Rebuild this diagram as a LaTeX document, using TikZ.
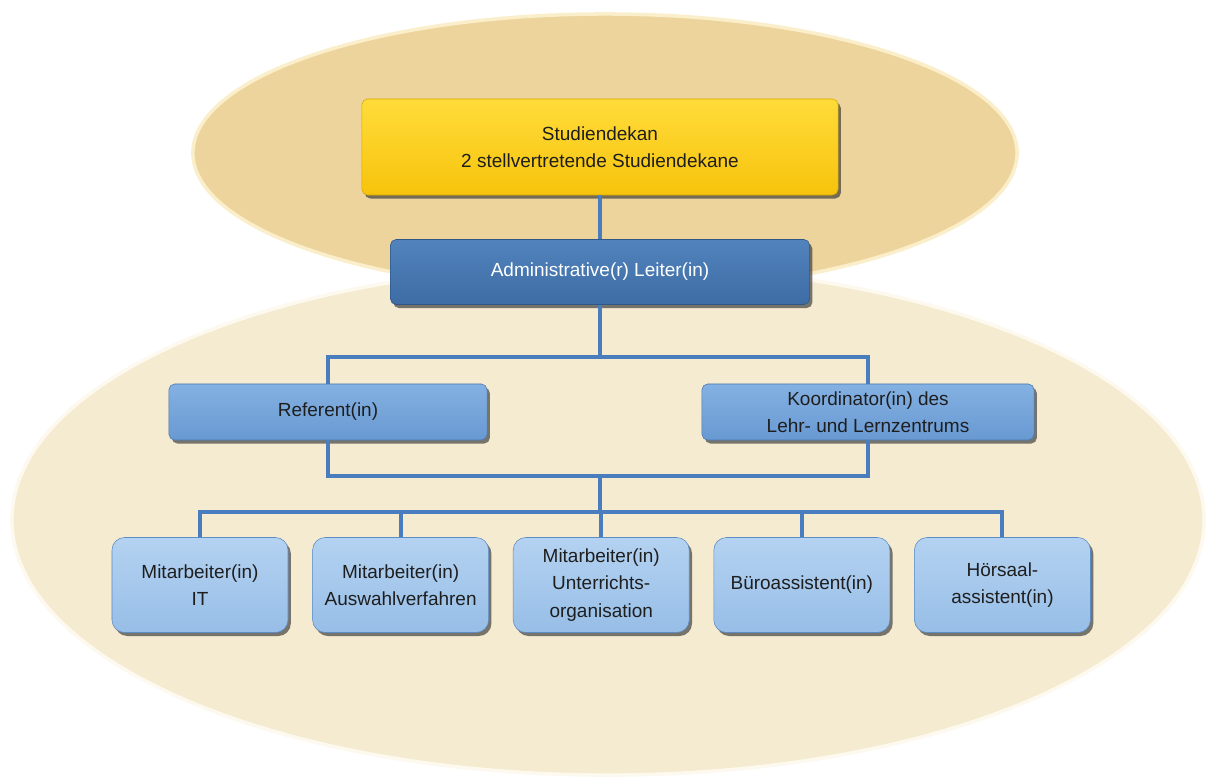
\documentclass[tikz,border=0pt]{standalone}
\usepackage{fontspec}
\setmainfont{Liberation Sans}
\usetikzlibrary{positioning, shadows}

\definecolor{oval_upper}{HTML}{EDD49C}
\definecolor{oval_upper_rim}{HTML}{FBEFCB}
\definecolor{oval_lower}{HTML}{F5EBD1}
\definecolor{oval_lower_rim}{HTML}{FDF9EE}
\definecolor{dean_top}{HTML}{FFDC3A}
\definecolor{dean_bottom}{HTML}{F7C30C}
\definecolor{dean_edge}{HTML}{D8A600}
\definecolor{lead_top}{HTML}{5283BC}
\definecolor{lead_bottom}{HTML}{3E6CA5}
\definecolor{lead_edge}{HTML}{2D5888}
\definecolor{mid_top}{HTML}{84B1E2}
\definecolor{mid_bottom}{HTML}{6899D2}
\definecolor{mid_edge}{HTML}{4A78B0}
\definecolor{staff_top}{HTML}{B4D2F1}
\definecolor{staff_bottom}{HTML}{97BEE7}
\definecolor{staff_edge}{HTML}{5D8BC4}
\definecolor{link_blue}{HTML}{4A7DBE}
\definecolor{text_dark}{HTML}{1E1E1E}

\begin{document}
\begin{tikzpicture}[
    x=0.025cm, y=-0.025cm,
    unit_box/.style={
        rectangle,
        rounded corners=4pt,
        thin,
        align=center,
        inner sep=2pt,
        text=text_dark,
        font=\fontsize{13.5}{19.5}\selectfont,
        drop shadow={shadow xshift=2pt, shadow yshift=-2.5pt, opacity=0.65, fill=black!80}
    },
    dean_box/.style={
        unit_box,
        draw=dean_edge,
        top color=dean_top,
        bottom color=dean_bottom,
        minimum width=11.9cm,
        minimum height=2.4cm
    },
    lead_box/.style={
        unit_box,
        draw=lead_edge,
        top color=lead_top,
        bottom color=lead_bottom,
        text=white,
        minimum width=10.475cm,
        minimum height=1.625cm
    },
    mid_box/.style={
        unit_box,
        draw=mid_edge,
        top color=mid_top,
        bottom color=mid_bottom,
        minimum height=1.4cm
    },
    staff_box/.style={
        unit_box,
        rounded corners=9pt,
        draw=staff_edge,
        top color=staff_top,
        bottom color=staff_bottom,
        minimum width=4.4cm,
        minimum height=2.375cm
    },
    link/.style={
        draw=link_blue,
        line width=2.8pt
    }
]

    % Background and ovals
    \fill[white] (0,0) rectangle (1210,776);
    \useasboundingbox (0,0) rectangle (1210,776);
    \filldraw[fill=oval_lower, draw=oval_lower_rim, line width=2.5pt]
        (608,520) ellipse [x radius=14.9cm, y radius=6.375cm];
    \filldraw[fill=oval_upper, draw=oval_upper_rim, line width=2.5pt]
        (605,153) ellipse [x radius=10.3cm, y radius=3.475cm];

    % Management
    \node[dean_box] (dekan) at (600,147) {Studiendekan\\2 stellvertretende Studiendekane};
    \node[lead_box] (leiter) at (600,272) {Administrative(r) Leiter(in)};

    % Second level
    \node[mid_box, minimum width=7.95cm] (ref) at (328,412) {Referent(in)};
    \node[mid_box, minimum width=8.3cm] (koord) at (868,412) {Koordinator(in) des\\Lehr- und Lernzentrums};

    % Staff
    \node[staff_box] (ma_it) at (200,585) {Mitarbeiter(in)\\IT};
    \node[staff_box, right=0.6cm of ma_it] (ma_aw) {Mitarbeiter(in)\\Auswahlverfahren};
    \node[staff_box, right=0.6cm of ma_aw] (ma_uo) {Mitarbeiter(in)\\Unterrichts-\\organisation};
    \node[staff_box, right=0.6cm of ma_uo] (buero) {Büroassistent(in)};
    \node[staff_box, right=0.6cm of buero] (hoersaal) {Hörsaal-\\assistent(in)};

    % Connectors
    \coordinate (split_top) at (600,357);
    \coordinate (join_mid) at (600,476);
    \coordinate (split_low) at (600,512);

    \draw[link] (dekan.south) -- (leiter.north);
    \draw[link] (leiter.south) -- (split_top);
    \draw[link] (ref.north) |- (split_top) -| (koord.north);
    \draw[link] (ref.south) |- (join_mid) -| (koord.south);
    \draw[link] (join_mid) -- (split_low);
    \draw[link] (ma_it.north) |- (split_low) -| (hoersaal.north);
    \draw[link] (ma_aw.north) -- (ma_aw.north |- split_low);
    \draw[link] (ma_uo.north) -- (ma_uo.north |- split_low);
    \draw[link] (buero.north) -- (buero.north |- split_low);

\end{tikzpicture}
\end{document}
